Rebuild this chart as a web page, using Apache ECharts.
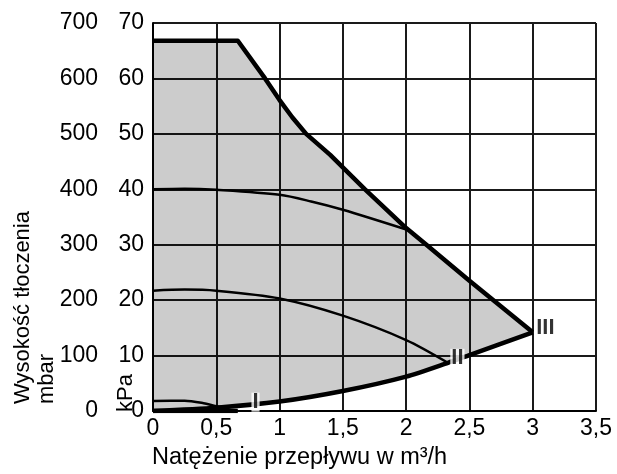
<!DOCTYPE html>
<html>
<head>
<meta charset="utf-8">
<script src="https://cdn.jsdelivr.net/npm/echarts@6/dist/echarts.min.js"></script>
<style>
html, body { margin: 0; padding: 0; background: #fff; }
#main { width: 617px; height: 474px; }
</style>
</head>
<body>
<div id="main"></div>
<script>
// krzywe: [m3/h, kPa]
var envelope = [[0, 66.8], [0.67, 66.8], [0.885, 60], [1, 56.1], [1.1, 53.0], [1.21, 50], [1.4, 46.2], [1.675, 40], [2, 33], [2.16, 30], [2.5, 23.5], [3, 14.2]];
var systemCurve = [[0, 0], [0.5, 0.6], [1, 1.7], [1.5, 3.6], [2, 6.2], [2.33, 8.7], [2.5, 10.1], [3, 14.2]];
var bottomLine = [[0, 0], [0.67, 0]];
var curve40 = [[0, 40], [0.25, 40.1], [0.5, 39.9], [1, 39], [1.25, 37.8], [1.5, 36.3], [2.02, 32.6]];
var stage2 = [[0, 21.7], [0.25, 21.9], [0.5, 21.7], [1, 20.3], [1.5, 17.2], [2, 12.8], [2.33, 8.7]];
var stage1 = [[0, 1.8], [0.25, 1.85], [0.4, 1.4], [0.5, 0.85], [0.56, 0.7]];
var stageLabels = [
    {name: 'I', value: [0.81, 1.6]},
    {name: 'II', value: [2.405, 9.5]},
    {name: 'III', value: [3.1, 14.9]}
];

var fontName = 'Liberation Sans, Arial, sans-serif';
var myChart = echarts.init(document.getElementById('main'));

var option = {
    animation: false,
    grid: {
        left: 153,
        right: 21,
        top: 23,
        bottom: 63
    },
    xAxis: {
        type: 'value',
        min: 0,
        max: 3.5,
        interval: 0.5,
        axisLine: {show: true, lineStyle: {color: '#000', width: 2}},
        axisTick: {show: false},
        splitLine: {show: true, lineStyle: {color: '#1a1a1a', width: 2}},
        axisLabel: {
            margin: 6,
            color: '#000',
            fontSize: 23,
            fontFamily: fontName,
            formatter: function (v) { return String(v).replace('.', ','); }
        }
    },
    yAxis: [
        {
            type: 'value',
            position: 'left',
            min: 0,
            max: 70,
            interval: 10,
            axisLine: {show: true, lineStyle: {color: '#000', width: 2}},
            axisTick: {show: false},
            splitLine: {show: true, lineStyle: {color: '#1a1a1a', width: 2}},
            axisLabel: {margin: 9, color: '#000', fontSize: 23, fontFamily: fontName}
        },
        {
            type: 'value',
            position: 'left',
            offset: 46,
            min: 0,
            max: 700,
            interval: 100,
            axisLine: {show: false},
            axisTick: {show: false},
            splitLine: {show: false},
            axisLabel: {margin: 9, color: '#000', fontSize: 23, fontFamily: fontName}
        }
    ],
    graphic: [
        {
            type: 'text',
            x: 11,
            y: 404,
            rotation: Math.PI / 2,
            style: {
                text: 'Wysokość tłoczenia\nmbar',
                font: '22px ' + fontName,
                lineHeight: 24,
                fill: '#000',
                textAlign: 'left',
                textVerticalAlign: 'top'
            }
        },
        {
            type: 'text',
            x: 114,
            y: 412,
            rotation: Math.PI / 2,
            style: {
                text: 'kPa',
                font: '22px ' + fontName,
                lineHeight: 24,
                fill: '#000',
                textAlign: 'left',
                textVerticalAlign: 'top'
            }
        },
        {
            type: 'text',
            x: 152,
            y: 446,
            style: {
                text: 'Natężenie przepływu w m³/h',
                font: '23.5px ' + fontName,
                fill: '#000',
                textAlign: 'left',
                textVerticalAlign: 'top'
            }
        }
    ],
    series: [
        {
            // szare pole pracy pompy
            type: 'custom',
            data: [[0, 0]],
            z: 1,
            renderItem: function (params, api) {
                var pts = [];
                for (var i = 0; i < envelope.length; i++) pts.push(api.coord(envelope[i]));
                for (var j = systemCurve.length - 1; j >= 0; j--) pts.push(api.coord(systemCurve[j]));
                return {
                    type: 'polygon',
                    shape: {points: pts},
                    style: {fill: 'rgba(0,0,0,0.2)', stroke: null}
                };
            },
            silent: true
        },
        {
            type: 'line',
            data: curve40,
            smooth: 0.3,
            symbol: 'none',
            z: 3,
            lineStyle: {color: '#000', width: 2.5}
        },
        {
            type: 'line',
            data: stage2,
            smooth: 0.3,
            symbol: 'none',
            z: 3,
            lineStyle: {color: '#000', width: 2.5}
        },
        {
            type: 'line',
            data: stage1,
            smooth: 0.3,
            symbol: 'none',
            z: 3,
            lineStyle: {color: '#000', width: 2.5}
        },
        {
            type: 'line',
            data: envelope,
            symbol: 'none',
            z: 4,
            lineStyle: {color: '#000', width: 4.5, join: 'round'}
        },
        {
            type: 'line',
            data: systemCurve,
            smooth: 0.25,
            symbol: 'none',
            z: 4,
            lineStyle: {color: '#000', width: 4.5, join: 'round'}
        },
        {
            type: 'line',
            data: bottomLine,
            symbol: 'none',
            z: 4,
            lineStyle: {color: '#000', width: 4.5}
        },
        {
            type: 'scatter',
            data: stageLabels,
            symbolSize: 0,
            z: 6,
            label: {
                show: true,
                position: 'inside',
                formatter: '{b}',
                color: '#000',
                fontSize: 22,
                fontWeight: 'bold',
                fontFamily: fontName,
                backgroundColor: '#fff',
                padding: [0, 1],
                lineHeight: 19
            }
        }
    ]
};

myChart.setOption(option);
</script>
</body>
</html>
